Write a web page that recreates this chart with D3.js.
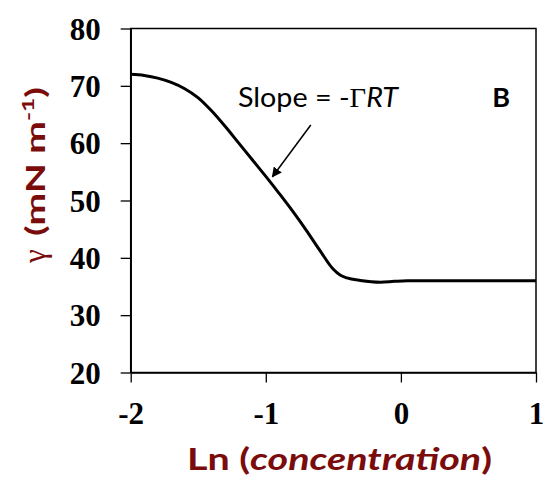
<!DOCTYPE html>
<html><head><meta charset="utf-8">
<script src="https://cdn.jsdelivr.net/npm/d3@7"></script>
<style>html,body{margin:0;padding:0;background:#fff;}</style>
</head><body>
<script>
// Data
const lnConc = [-2, -1.9, -1.8, -1.7, -1.6, -1.5, -1.4, -1.3, -1.2, -1.1, -1.0, -0.9, -0.8, -0.7, -0.6, -0.5, -0.45, -0.4, -0.3, -0.15, -0.05, 0.05, 0.5, 1];
const gamma  = [72.0, 71.8, 71.35, 70.6, 69.5, 67.9, 65.6, 62.9, 60.0, 57.1, 54.2, 51.2, 48.1, 44.8, 41.3, 38.0, 37.0, 36.5, 36.05, 35.75, 35.9, 36.0, 36.0, 36.0];
const xTicks = [-2, -1, 0, 1];
const yTicks = [20, 30, 40, 50, 60, 70, 80];

const W = 543, H = 482;
const m = {left: 130.7, right: 7, top: 28.5, bottom: 109.5};
const dark = "#7a0c0c";

const svg = d3.select("body").append("svg").attr("width", W).attr("height", H);
const x = d3.scaleLinear().domain([-2, 1]).range([m.left, W - m.right]);
const y = d3.scaleLinear().domain([20, 80]).range([H - m.bottom, m.top]);

// frame
svg.append("rect").attr("x", x(-2)).attr("y", y(80)).attr("width", x(1) - x(-2)).attr("height", y(20) - y(80))
  .attr("fill", "none").attr("stroke", "#000").attr("stroke-width", 1.5);

const xAxis = svg.append("g").attr("transform", `translate(0,${y(20)})`)
  .call(d3.axisBottom(x).tickValues(xTicks).tickSize(10).tickSizeOuter(0).tickFormat(d => String(d)));
const yAxis = svg.append("g").attr("transform", `translate(${x(-2)},0)`)
  .call(d3.axisLeft(y).tickValues(yTicks).tickSize(10).tickSizeOuter(0).tickFormat(d => String(d)));
[xAxis, yAxis].forEach(g => {
  g.select(".domain").attr("stroke", "#000").attr("stroke-width", 1.5);
  g.selectAll(".tick line").attr("stroke", "#000").attr("stroke-width", 1.3);
  g.selectAll(".tick text").attr("font-family", "'Liberation Serif', 'Times New Roman', serif")
    .attr("font-weight", "bold").attr("font-size", 31).attr("fill", "#000");
});
xAxis.selectAll(".tick text").attr("y", 0).attr("dy", 0).attr("transform", "translate(0,51)");
yAxis.selectAll(".tick text").attr("x", -30).attr("dy", "0.34em");

// curve
const line = d3.line().x((d, i) => x(lnConc[i])).y(d => y(d)).curve(d3.curveMonotoneX);
svg.append("path").datum(gamma).attr("d", line).attr("fill", "none").attr("stroke", "#000").attr("stroke-width", 3);

// axis titles
const xt = svg.append("text").attr("x", 187).attr("y", 469.5).attr("textLength", 305).attr("lengthAdjust", "spacingAndGlyphs")
  .attr("font-family", "Lato, 'Open Sans', sans-serif").attr("font-weight", "bold").attr("font-size", 30).attr("fill", dark);
xt.append("tspan").text("Ln (");
xt.append("tspan").attr("font-style", "italic").text("concentration");
xt.append("tspan").text(")");

svg.append("text").attr("transform", `translate(45,263) rotate(-90)`)
  .attr("font-family", "'Liberation Serif', 'Times New Roman', serif").attr("font-size", 31).attr("fill", dark).text("γ");
const yt = svg.append("text").attr("transform", `translate(45,236) rotate(-90)`).attr("textLength", 149).attr("lengthAdjust", "spacingAndGlyphs")
  .attr("font-family", "Lato, 'Open Sans', sans-serif").attr("font-weight", "bold").attr("font-size", 27).attr("fill", dark);
yt.append("tspan").text("(mN m");
yt.append("tspan").attr("font-size", 17).attr("dy", -11).text("-1");
yt.append("tspan").attr("dy", 11).text(")");

// annotation
const st = svg.append("text").attr("x", 238).attr("y", y(66.36)).attr("textLength", 160).attr("lengthAdjust", "spacingAndGlyphs")
  .attr("font-family", "Lato, 'Open Sans', sans-serif").attr("font-size", 27).attr("fill", "#000");
st.append("tspan").text("Slope = -");
st.append("tspan").attr("font-family", "'Liberation Serif', serif").text("Γ");
st.append("tspan").attr("font-style", "italic").text("RT");

svg.append("text").attr("x", x(0.676)).attr("y", y(66.36))
  .attr("font-family", "Lato, 'Open Sans', sans-serif").attr("font-weight", "bold").attr("font-size", 27).attr("fill", "#000").text("B");

svg.append("defs").append("marker").attr("id", "ah").attr("viewBox", "0 0 10 10").attr("refX", 9).attr("refY", 5)
  .attr("markerWidth", 10).attr("markerHeight", 10).attr("markerUnits", "userSpaceOnUse").attr("orient", "auto")
  .append("path").attr("d", "M0,0 L10,5 L0,10 Z").attr("fill", "#000");
svg.append("line").attr("x1", x(-0.667)).attr("y1", y(63.17)).attr("x2", x(-0.951)).attr("y2", y(54.15))
  .attr("stroke", "#000").attr("stroke-width", 1.5).attr("marker-end", "url(#ah)");
</script>
</body></html>
